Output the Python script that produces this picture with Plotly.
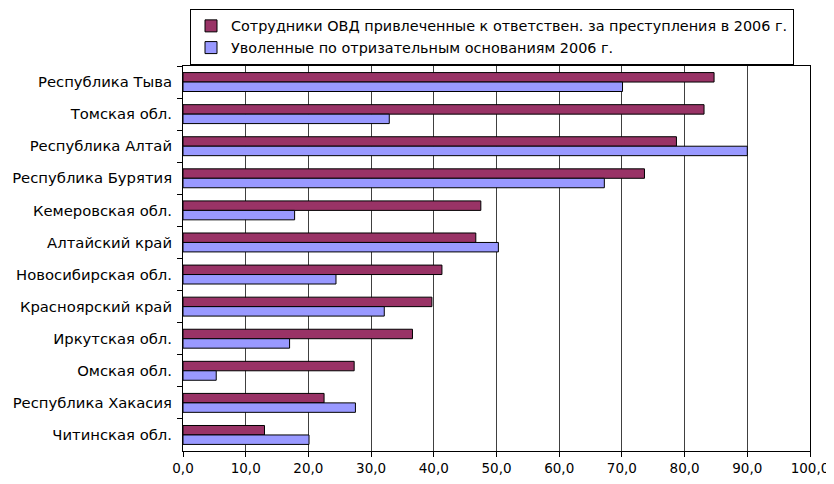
import plotly.graph_objects as go

# Regions (top to bottom as shown)
regions = [
    'Республика Тыва', 'Томская обл.', 'Республика Алтай', 'Республика Бурятия',
    'Кемеровская обл.', 'Алтайский край', 'Новосибирская обл.', 'Красноярский край',
    'Иркутская обл.', 'Омская обл.', 'Республика Хакасия', 'Читинская обл.',
]

# Employees held responsible for crimes, 2006
prosecuted_2006 = [84.7, 83.1, 78.7, 73.6, 47.5, 46.7, 41.3, 39.7, 36.6, 27.3, 22.5, 13.0]

# Dismissed on negative grounds, 2006
dismissed_2006 = [70.1, 32.9, 90.0, 67.2, 17.8, 50.3, 24.4, 32.1, 17.0, 5.3, 27.5, 20.1]

x_ticks = [0, 10, 20, 30, 40, 50, 60, 70, 80, 90, 100]

FONT = 'DejaVu Sans, Liberation Sans, Arial, sans-serif'

# page body adds an 8px margin, so the figure is a bit smaller than the window
W, H = 826, 476

fig = go.Figure()

fig.add_trace(go.Bar(
    y=regions, x=prosecuted_2006, orientation='h',
    name='Сотрудники ОВД привлеченные к ответствен. за преступления в 2006 г.',
    marker=dict(color='#993366', line=dict(color='#000000', width=1)),
))
fig.add_trace(go.Bar(
    y=regions, x=dismissed_2006, orientation='h',
    name='Уволенные по отризательным основаниям 2006 г.',
    marker=dict(color='#9999FF', line=dict(color='#000000', width=1)),
))

fig.update_layout(
    width=W, height=H,
    margin=dict(l=175, r=24, t=58, b=33, autoexpand=False),
    paper_bgcolor='white', plot_bgcolor='white',
    barmode='group', bargap=0.41, bargroupgap=0,
    separators=', ',
    font=dict(family=FONT, size=13, color='#000000'),
    showlegend=True,
    legend=dict(
        xref='container', yref='container',
        x=182 / W, y=1 - 1 / H, xanchor='left', yanchor='top',
        bordercolor='#000000', borderwidth=1, bgcolor='white',
        font=dict(family=FONT, size=14.4, color='#000000'),
        traceorder='normal', tracegroupgap=0,
    ),
    xaxis=dict(
        range=[0, 100], tickvals=x_ticks, tickformat='.1f',
        tickfont=dict(size=13.5),
        showgrid=True, gridcolor='#404040', gridwidth=1,
        showline=True, linecolor='#000000', linewidth=1, mirror=True,
        ticks='outside', ticklen=5, tickcolor='#000000',
        zeroline=False, fixedrange=True, automargin=False,
    ),
    yaxis=dict(
        autorange='reversed', type='category',
        tickfont=dict(size=14.8), ticklabelstandoff=7,
        showline=True, linecolor='#000000', linewidth=1, mirror=True,
        ticks='outside', ticklen=5, tickcolor='#000000', tickson='boundaries',
        showgrid=False, fixedrange=True, automargin=False,
    ),
)

fig.write_html("out.html")
